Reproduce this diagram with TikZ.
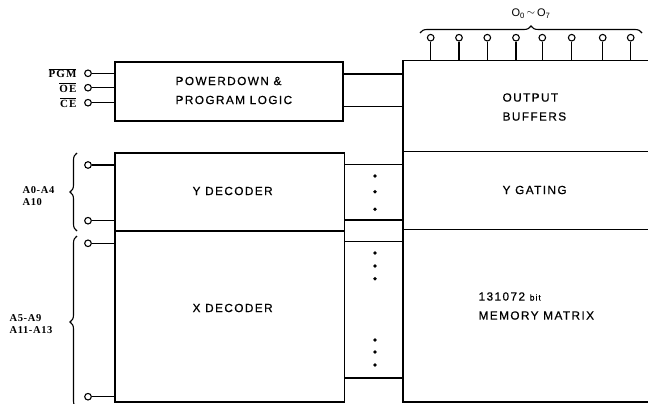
\documentclass[tikz,border=0pt]{standalone}
\usepackage{fontspec}
\setmainfont{Liberation Sans}
\newfontfamily\boxfont{Liberation Sans}[LetterSpace=12,FakeBold=0.6]
\newfontfamily\pinfont{Liberation Serif}[LetterSpace=6]
\newfontfamily\ctlfont{Liberation Serif}[LetterSpace=10]
\usetikzlibrary{decorations.pathreplacing}
\begin{document}
\begin{tikzpicture}[x=1pt,y=-1pt,line width=1.2pt,
  blk/.style={draw,rectangle,inner sep=0pt},
  lbl/.style={font=\boxfont\fontsize{11.8}{19}\selectfont,align=left,inner sep=0pt,anchor=west},
  plbl/.style={font=\pinfont\bfseries\fontsize{10.5}{12}\selectfont,align=left,inner sep=0pt},
  clbl/.style={font=\ctlfont\bfseries\fontsize{11}{12}\selectfont,inner sep=0pt,anchor=east},
  pinc/.style={draw,circle,minimum size=6.6pt,inner sep=0pt,line width=1.1pt,fill=white},
  bdot/.style={fill,circle,minimum size=3.8pt,inner sep=0pt},
  brc/.style={decorate,decoration={brace,amplitude=7pt},line width=1.1pt}]
\useasboundingbox (0,0) rectangle (648,404);
\clip (0,0) rectangle (648,404);
% blocks
\node[blk,minimum width=228pt,minimum height=59pt] (pd) at (229,91.5) {};
\node[blk,minimum width=229.5pt,minimum height=78pt] (yd) at (229.75,192) {};
\node[blk,minimum width=229.5pt,minimum height=171pt] (xd) at (229.75,316.5) {};
\node[blk,minimum width=277pt,minimum height=91pt] (ob) at (541.5,106) {};
\node[blk,minimum width=277pt,minimum height=78pt] (yg) at (541.5,190.5) {};
\node[blk,minimum width=277pt,minimum height=172.5pt] (mm) at (541.5,315.75) {};
\node[blk,minimum width=58.5pt,minimum height=55.5pt] (bu1) at (373.75,192.25) {};
\node[blk,minimum width=58.5pt,minimum height=136.5pt] (bu2) at (373.75,309.75) {};
% labels
\node[lbl] (tpd) at (175,90.5) {POWERDOWN \&\\PROGRAM LOGIC};
\node[lbl] (tob) at (502,107) {OUTPUT\\BUFFERS};
\node[lbl] (tyg) at (502,190) {Y GATING};
\node[lbl] (tyd) at (192,191) {Y DECODER};
\node[lbl] (txd) at (192,308) {X DECODER};
\node[lbl] (tmm) at (478,306) {131072 {\fontsize{8.5}{10}\selectfont bit}\\MEMORY MATRIX};
% control pins
\node[pinc] (pg) at (88,73.3) {};
\node[pinc] (po) at (88,87.7) {};
\node[pinc] (pc) at (88,102.7) {};
\draw (pg) -- (pd.west |- pg);
\draw (po) -- (pd.west |- po);
\draw (pc) -- (pd.west |- pc);
\node[clbl] (lpg) at (77,73.3) {$\overline{\hbox{PGM}}$};
\node[clbl] (lpo) at (77,87.7) {$\overline{\hbox{OE}}$};
\node[clbl] (lpc) at (77,102.7) {$\overline{\hbox{CE}}$};
% address pins
\node[pinc] (a1) at (88,165) {};
\node[pinc] (a2) at (88,220.7) {};
\node[pinc] (a3) at (88,243.3) {};
\node[pinc] (a4) at (88,396.7) {};
\draw (a1) -- (yd.west |- a1);
\draw (a2) -- (yd.west |- a2);
\draw (a3) -- (xd.west |- a3);
\draw (a4) -- (xd.west |- a4);
\coordinate (yb1) at (77,231);
\coordinate (yb2) at (77,153);
\coordinate (xb1) at (77,408);
\coordinate (xb2) at (77,236);
\draw[brc] (yb1) -- (yb2);
\draw[brc] (xb1) -- (xb2);
\node[plbl,anchor=west] (la1) at (22,196) {A0-A4\\A10};
\node[plbl,anchor=west] (la2) at (9,324) {A5-A9\\A11-A13};
% pd to output buffers
\draw (pd.east |- 0,74) -- (ob.west |- 0,74);
\draw (pd.east |- 0,106.7) -- (ob.west |- 0,106.7);
% output pins
\foreach \i/\x in {1/430.7,2/459,3/487.3,4/516,5/542.3,6/571.7,7/602.7,8/630.7}{
  \node[pinc] (o\i) at (\x,37.7) {};
  \draw (o\i) -- (o\i |- ob.north);
}
\coordinate (ob1) at (420,33);
\coordinate (ob2) at (642,33);
\draw[brc] (ob1) -- (ob2);
\node[font=\fontsize{11}{12}\selectfont,inner sep=0pt] (lo) at (531,14) {O\textsubscript{0}\,\raisebox{1pt}{$\sim$}\,O\textsubscript{7}};
% bus dots
\foreach \i/\y in {1/176,2/191.7,3/209.3,4/253,5/266,6/278.7,7/340,8/352,9/365}{
  \node[bdot] (d\i) at (375,\y) {};
}
\end{tikzpicture}
\end{document}
